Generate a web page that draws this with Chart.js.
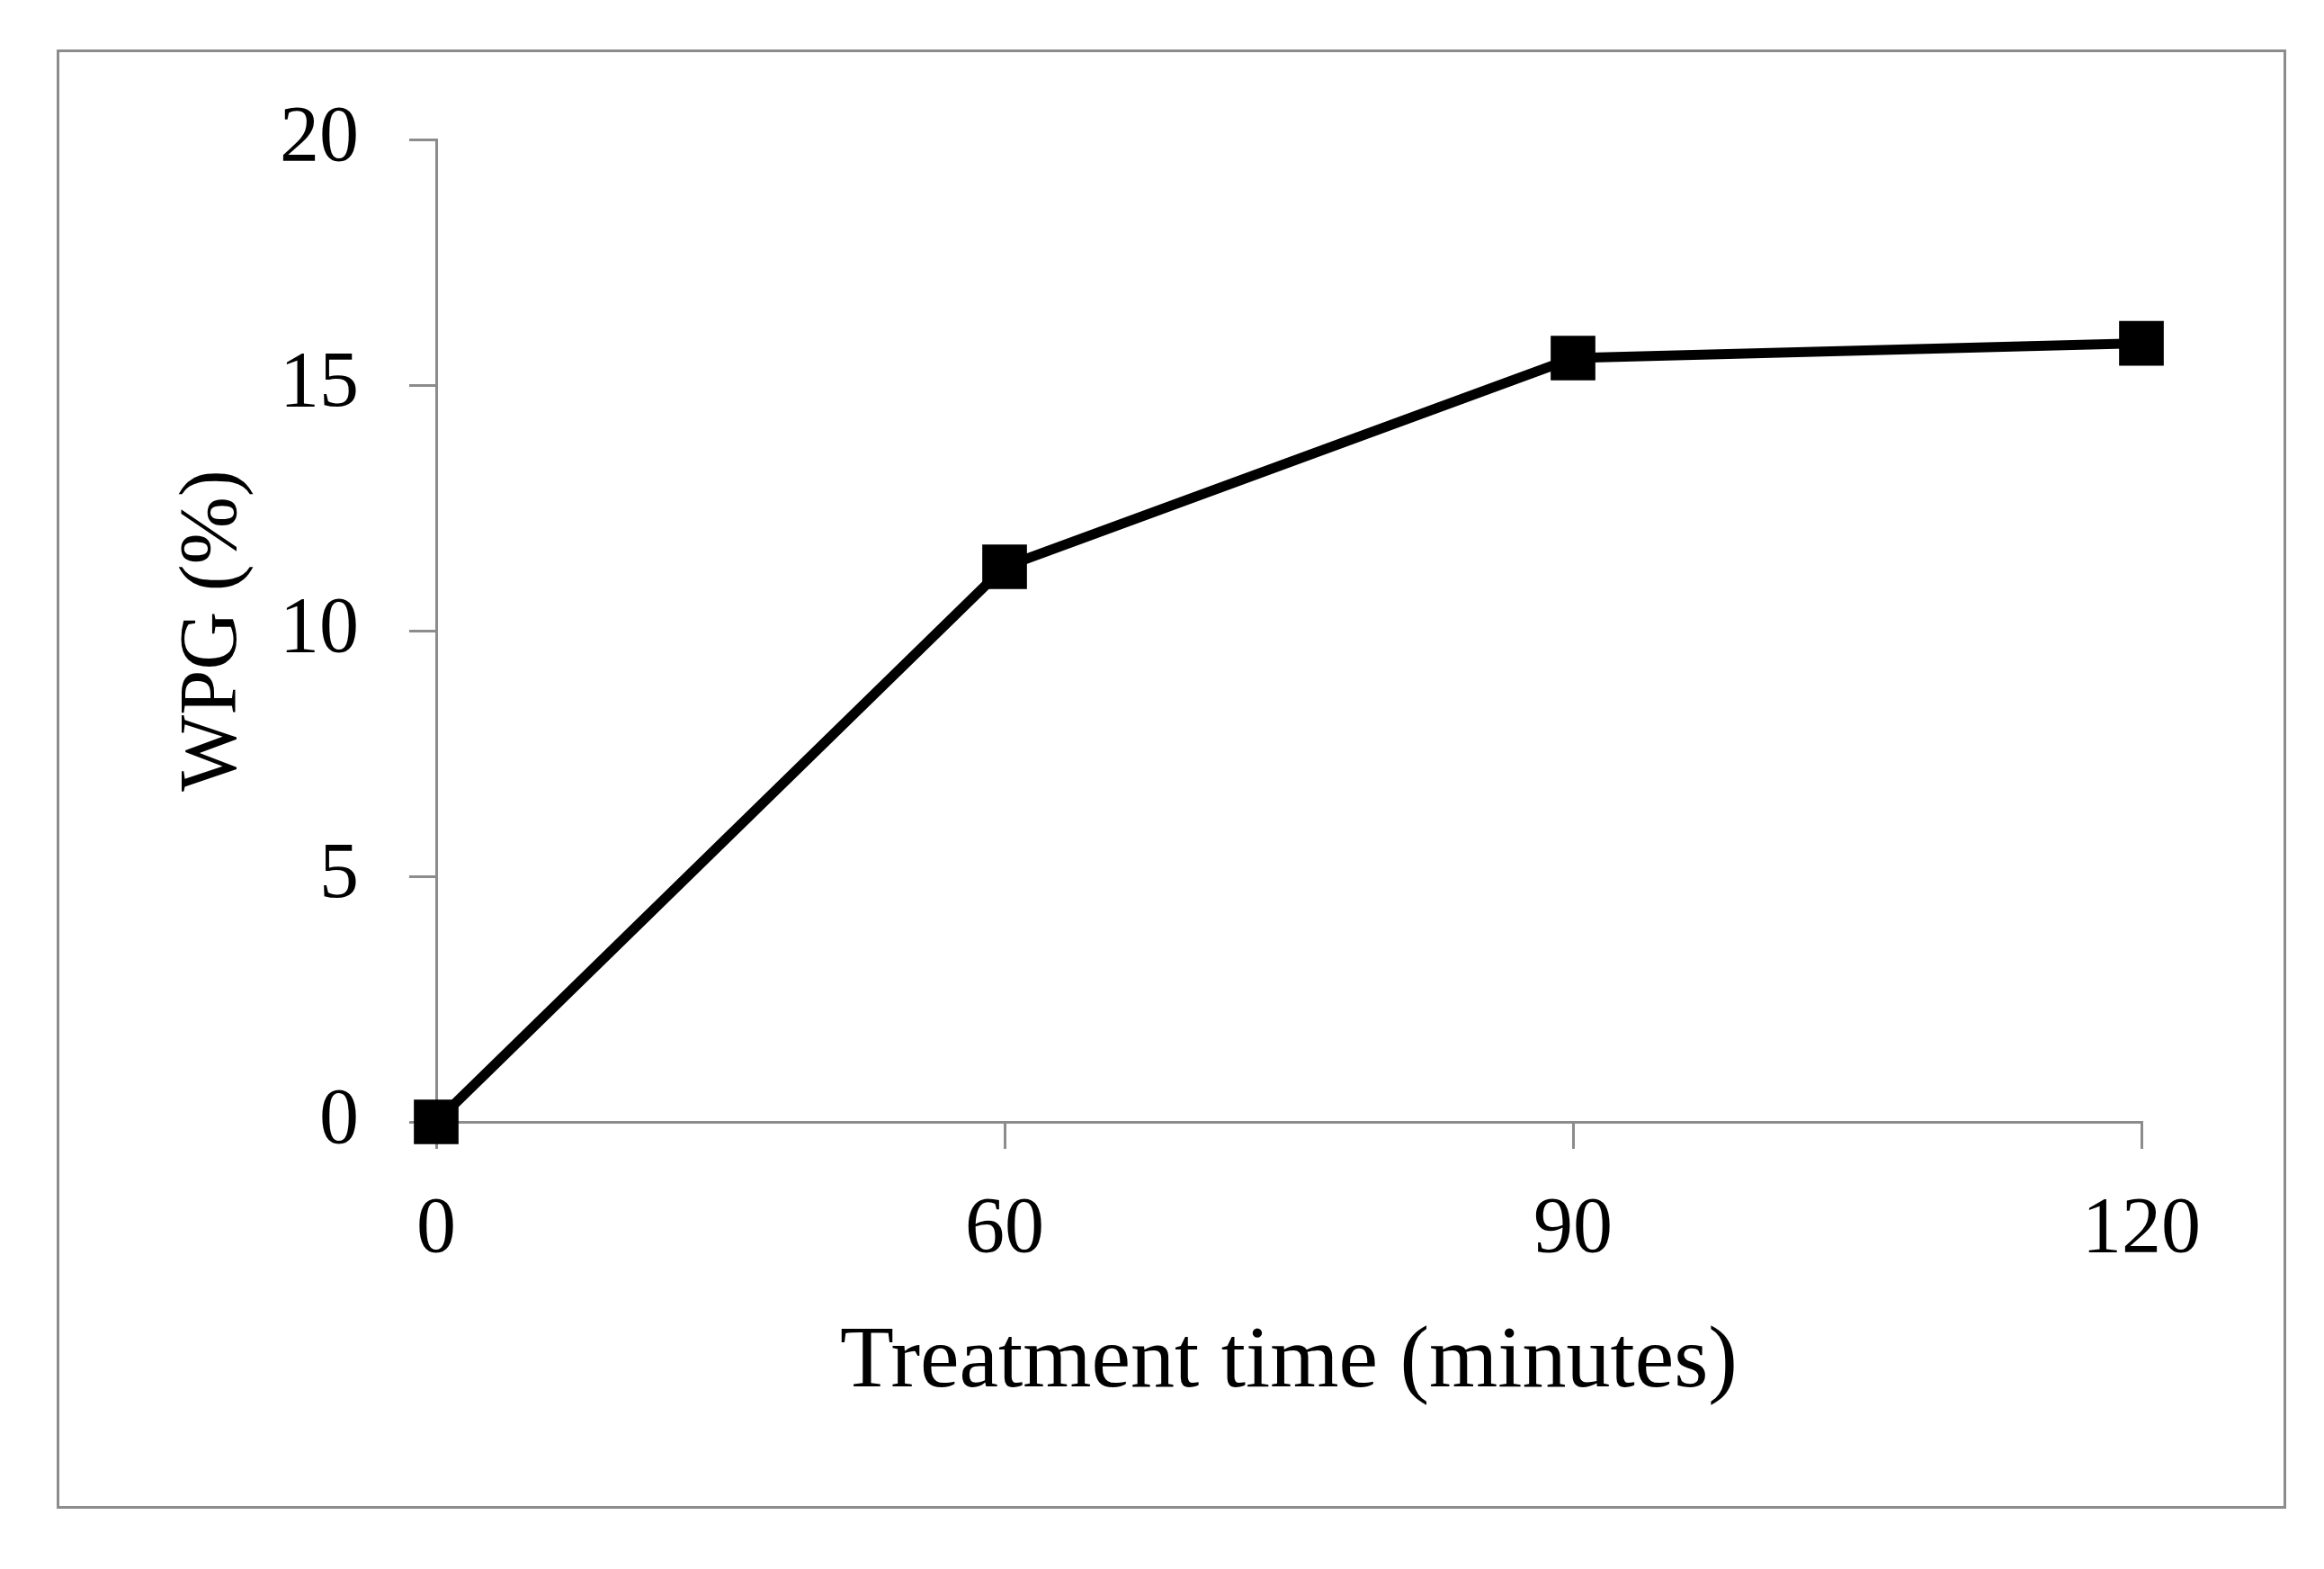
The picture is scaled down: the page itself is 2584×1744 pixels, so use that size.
<!DOCTYPE html>
<html>
<head>
<meta charset="utf-8">
<title>WPG vs treatment time</title>
<script src="https://cdn.jsdelivr.net/npm/chart.js@4.4.1/dist/chart.umd.min.js"></script>
<style>
    html, body { margin: 0; padding: 0; background: #fff; }
    #wrap { width: 2584px; height: 1744px; position: relative; }
</style>
</head>
<body>
<div id="wrap"><canvas id="wpgChart"></canvas></div>
<script>
// data
const timeLabels = ["0", "60", "90", "120"];
const wpgValues = [0, 11.3, 15.55, 15.85];
const yMin = 0;
const yMax = 20;
const yStep = 5;

const axisGrey = "#8c8c8c";
const serif = "'Liberation Serif', 'Times New Roman', serif";

// outer frame round the whole figure
const framePlugin = {
    id: "frame",
    afterDraw(chart) {
        const ctx = chart.ctx;
        ctx.save();
        ctx.strokeStyle = axisGrey;
        ctx.lineWidth = 3;
        ctx.strokeRect(64.5, 56.5, 2476, 1619);
        ctx.restore();
    }
};

const wpgChart = new Chart(document.getElementById("wpgChart"), {
    type: 'line',
    data: {
        labels: timeLabels,
        datasets: [{
            label: "WPG (%)",
            data: wpgValues,
            borderColor: "#000",
            borderWidth: 11,
            tension: 0,
            fill: false,
            clip: false,
            pointStyle: 'rect',
            pointRadius: 33,
            pointBackgroundColor: "#000",
            pointBorderColor: "#000",
            pointBorderWidth: 3
        }]
    },
    options: {
        responsive: true,
        maintainAspectRatio: false,
        devicePixelRatio: 1,
        animation: false,
        layout: {
            padding: { left: 0, top: 155, right: 203, bottom: 0 }
        },
        plugins: {
            legend: { display: false },
            tooltip: { enabled: false }
        },
        scales: {
            x: {
                type: 'category',
                offset: false,
                grid: {
                    drawOnChartArea: false,
                    drawTicks: true,
                    tickLength: 30,
                    color: axisGrey,
                    lineWidth: 3
                },
                border: { display: true, color: axisGrey, width: 3 },
                ticks: {
                    color: "#000",
                    font: { family: serif, size: 88 },
                    padding: 38,
                    maxRotation: 0,
                    autoSkip: false
                },
                title: {
                    display: true,
                    text: "Treatment time (minutes)",
                    color: "#000",
                    font: { family: serif, size: 98 },
                    padding: { top: 0, bottom: 170 }
                },
                afterFit(scale) { scale.height = 497; }
            },
            y: {
                min: yMin,
                max: yMax,
                grid: {
                    drawOnChartArea: false,
                    drawTicks: true,
                    tickLength: 30,
                    color: axisGrey,
                    lineWidth: 3
                },
                border: { display: true, color: axisGrey, width: 3 },
                ticks: {
                    stepSize: yStep,
                    color: "#000",
                    font: { family: serif, size: 88 },
                    padding: 56
                },
                title: {
                    display: true,
                    text: "WPG (%)",
                    color: "#000",
                    font: { family: serif, size: 90 },
                    padding: { top: 184, bottom: 0 }
                },
                afterFit(scale) { scale.width = 485; }
            }
        }
    },
    plugins: [framePlugin]
});
</script>
</body>
</html>
